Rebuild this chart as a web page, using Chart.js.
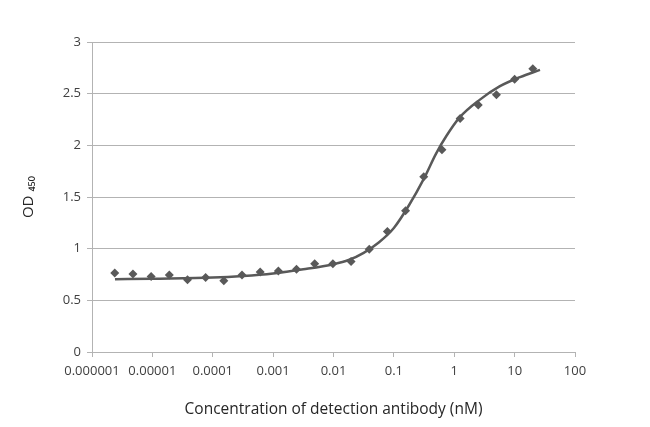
<!DOCTYPE html>
<html>
<head>
<meta charset="utf-8">
<script src="https://cdn.jsdelivr.net/npm/chart.js@4"></script>
<style>
  html, body { margin:0; padding:0; background:#fff; }
  #wrap { width:650px; height:427px; }
</style>
</head>
<body>
<div id="wrap"><canvas id="chartOD" width="650" height="427"></canvas></div>
<script>
// concentration (nM), 2-fold dilution series
const konsentrasi = [
  0.000002384, 0.000004768, 0.000009537, 0.00001907, 0.00003815, 0.00007629,
  0.0001526, 0.0003052, 0.0006104, 0.001221, 0.002441, 0.004883,
  0.009766, 0.01953, 0.03906, 0.07813, 0.1563, 0.3125,
  0.625, 1.25, 2.5, 5, 10, 20
];
const nilaiOD = [
  0.765, 0.755, 0.73, 0.745, 0.70, 0.72,
  0.69, 0.745, 0.775, 0.785, 0.80, 0.853,
  0.853, 0.875, 0.995, 1.165, 1.366, 1.696,
  1.958, 2.26, 2.39, 2.49, 2.64, 2.74
];

// fitted curve
const kurvaX = [
  0.0000024, 0.00001, 0.0001, 0.000316, 0.001, 0.00316, 0.01, 0.0178,
  0.0316, 0.0562, 0.1, 0.178, 0.316, 0.5, 0.74, 1.23, 2.63, 5.62, 12.3, 26.3
];
const kurvaY = [
  0.705, 0.71, 0.72, 0.735, 0.76, 0.80, 0.85, 0.89,
  0.96, 1.06, 1.20, 1.42, 1.68, 1.92, 2.09, 2.27, 2.44, 2.57, 2.66, 2.73
];

const xTicks = [0.000001, 0.00001, 0.0001, 0.001, 0.01, 0.1, 1, 10, 100];
const xLabels = ['0.000001','0.00001','0.0001','0.001','0.01','0.1','1','10','100'];

const warnaTitik = '#595959';
const warnaGrid = '#b3b3b3';
const warnaTeks = '#404040';
const keluarga = '"Open Sans", "Liberation Sans", sans-serif';
const fontDasar = { family:keluarga, size:13 };

const titik = konsentrasi.map((x,i)=>({x:x, y:nilaiOD[i]}));
const kurva = kurvaX.map((x,i)=>({x:x, y:kurvaY[i]}));

new Chart(document.getElementById('chartOD'),{
    type:'scatter',
    data:{
        datasets:[
            {
                label:'fit',
                data:kurva,
                showLine:true,
                borderColor:warnaTitik,
                borderWidth:2.5,
                pointRadius:0,
                cubicInterpolationMode:'monotone',
                order:2
            },
            {
                label:'OD',
                data:titik,
                pointStyle:'rectRot',
                pointRadius:4.5,
                backgroundColor:warnaTitik,
                borderColor:warnaTitik,
                borderWidth:0,
                order:1
            }
        ]
    },
    options:{
        responsive:false,
        animation:false,
        layout:{ padding:{ top:42, right:75, left:0, bottom:0 } },
        plugins:{ legend:{display:false}, tooltip:{enabled:false} },
        scales:{
            x:{
                type:'logarithmic',
                min:0.000001,
                max:100,
                afterBuildTicks:s=>{ s.ticks = xTicks.map(v=>({value:v})); },
                afterFit:s=>{ s.height = 75; },
                ticks:{
                    autoSkip:false,
                    maxRotation:0,
                    color:warnaTeks,
                    font:fontDasar,
                    padding:6,
                    callback:(v)=>{ const i = xTicks.indexOf(v); return i>=0 ? xLabels[i] : ''; }
                },
                grid:{ drawOnChartArea:false, drawTicks:true, tickLength:5, color:warnaGrid },
                border:{ color:warnaGrid, width:1 },
                title:{
                    display:true,
                    text:'Concentration of detection antibody (nM)',
                    color:'#262626',
                    font:{ family:keluarga, size:15.5 },
                    padding:{ top:4, bottom:8 }
                }
            },
            y:{
                min:0,
                max:3,
                afterFit:s=>{ s.width = 92; },
                ticks:{
                    stepSize:0.5,
                    color:warnaTeks,
                    font:fontDasar,
                    padding:6,
                    callback:v=>String(v)
                },
                grid:{ color:warnaGrid, tickLength:5, lineWidth:1 },
                border:{ color:warnaGrid, width:1 },
                title:{
                    display:true,
                    text:'OD ₄₅₀',
                    color:'#262626',
                    font:{ family:keluarga, size:15 },
                    padding:{ top:20 }
                }
            }
        }
    }
});
</script>
</body>
</html>
